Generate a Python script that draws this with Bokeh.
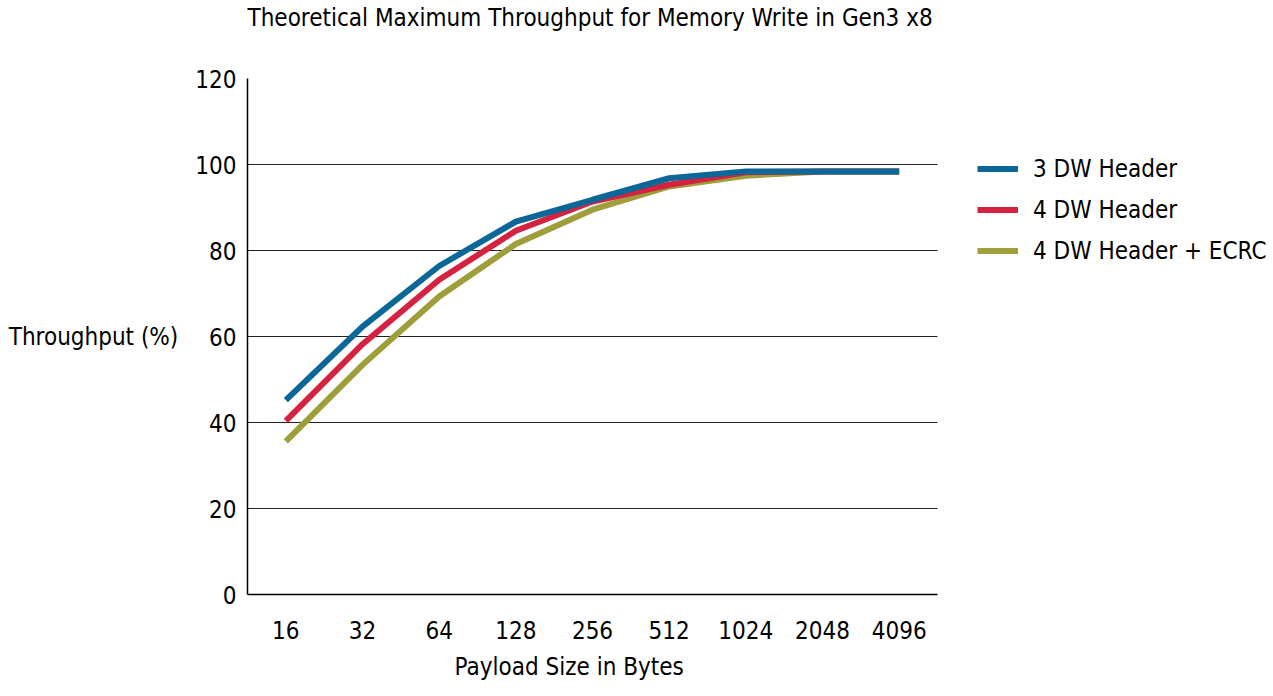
from bokeh.plotting import figure
from bokeh.models import Range1d, FixedTicker, Legend, LegendItem, Title, Grid
from bokeh.embed import file_html
from bokeh.resources import INLINE

payload = ["16", "32", "64", "128", "256", "512", "1024", "2048", "4096"]
hdr3 = [45.2, 62.3, 76.4, 86.7, 91.8, 96.8, 98.4, 98.4, 98.4]
hdr4 = [40.4, 58.2, 73.2, 84.6, 91.4, 95.3, 98.2, 98.4, 98.4]
hdr4_ecrc = [35.6, 53.4, 69.3, 81.5, 89.5, 94.9, 97.4, 98.4, 98.4]
y_ticks = [0, 20, 40, 60, 80, 100, 120]
chart_title = "Theoretical Maximum Throughput for Memory Write in Gen3 x8"
x_title = "Payload Size in Bytes"
y_title = "Throughput (%)"

FONT = "DejaVu Sans Condensed, Roboto"
FS = "24px"

W, H = 1267, 696
LEFT, TOP, BOTTOM = 247, 78, 102
PLOT_W = 690                      # visible width of the chart area (px)
FRAME_W = W - LEFT                # frame runs to the right edge so the legend fits inside it
n = len(payload)
xpos = list(range(n))
x_start = -0.5
x_end = x_start + n * FRAME_W / PLOT_W

p = figure(width=W, height=H, x_range=Range1d(x_start, x_end), y_range=Range1d(0, 120),
           output_backend="svg", toolbar_location=None, title=None,
           min_border_left=LEFT, min_border_right=0, min_border_top=TOP, min_border_bottom=BOTTOM)
p.outline_line_color = None
p.background_fill_color = "white"
p.border_fill_color = "white"

# spacer between frame and title, then the title itself
p.add_layout(Title(text=" ", text_font_size="1px", standoff=40), "above")
p.add_layout(Title(text=chart_title, text_font=FONT, text_font_size=FS, text_font_style="normal",
                   align="left", offset=0, vertical_align="top", standoff=4, text_color="black"), "above")

p.xgrid.grid_line_color = None
p.ygrid.grid_line_color = "#222222"
p.ygrid.grid_line_width = 1.2
p.yaxis.ticker = FixedTicker(ticks=y_ticks)
if "cross_bounds" in Grid.properties():
    p.ygrid.cross_bounds = (x_start, n - 0.5)
else:
    p.ygrid.grid_line_color = None
    p.segment(x0=[x_start] * len(y_ticks), x1=[n - 0.5] * len(y_ticks), y0=y_ticks, y1=y_ticks,
              line_color="#222222", line_width=1.2, level="underlay")

p.xaxis.ticker = FixedTicker(ticks=xpos)
p.xaxis.major_label_overrides = {i: lab for i, lab in zip(xpos, payload)}
p.xaxis.bounds = (x_start, n - 0.5)

for ax in (p.xaxis, p.yaxis):
    ax.major_tick_line_color = None
    ax.minor_tick_line_color = None
    ax.major_tick_out = 0
    ax.major_tick_in = 0
    ax.axis_line_color = "black"
    ax.axis_line_width = 1.5
    ax.major_label_text_font = FONT
    ax.major_label_text_font_size = FS
    ax.major_label_text_color = "black"
    ax.axis_label_text_font = FONT
    ax.axis_label_text_font_size = FS
    ax.axis_label_text_font_style = "normal"
    ax.axis_label_text_color = "black"
p.yaxis.major_label_standoff = 11
p.xaxis.major_label_standoff = 26
p.yaxis.axis_label = y_title
p.yaxis.axis_label_orientation = "horizontal"
p.yaxis.axis_label_standoff = 14

# x-axis title, centred under the visible chart area (not the whole frame)
p.add_layout(Title(text=x_title, text_font=FONT, text_font_size=FS, text_font_style="normal",
                   align="left", offset=207, vertical_align="top", standoff=22,
                   text_color="black"), "below")

r3 = p.line(xpos, hdr4_ecrc, line_color="#9E9E3A", line_width=6)
r2 = p.line(xpos, hdr4, line_color="#D42240", line_width=6)
r1 = p.line(xpos, hdr3, line_color="#0A6798", line_width=6)

legend = Legend(items=[LegendItem(label="3 DW Header", renderers=[r1]),
                       LegendItem(label="4 DW Header", renderers=[r2]),
                       LegendItem(label="4 DW Header + ECRC", renderers=[r3])],
                location=(730, 323), glyph_width=41, glyph_height=41, label_height=41,
                label_standoff=15, spacing=0, padding=0, margin=0,
                border_line_color=None, background_fill_alpha=0,
                label_text_font=FONT, label_text_font_size=FS, label_text_color="black")
p.add_layout(legend, "center")

open("out.html", "w").write(file_html(p, INLINE))
